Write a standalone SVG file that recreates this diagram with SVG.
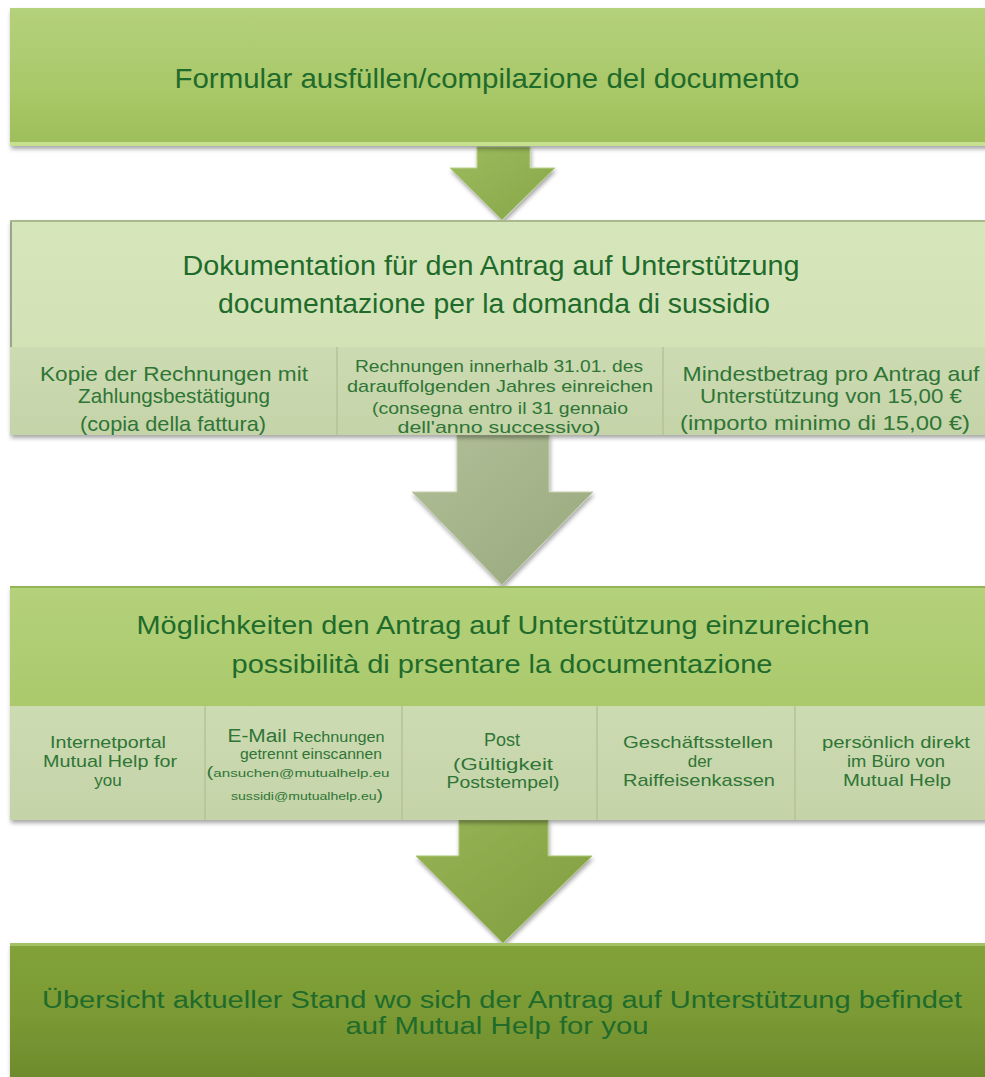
<svg xmlns="http://www.w3.org/2000/svg" width="985" height="1077" viewBox="0 0 985 1077">
<defs>
<linearGradient id="gBright" x1="0" y1="0" x2="0" y2="1">
<stop offset="0" stop-color="#b4d17b"/><stop offset="0.6" stop-color="#a9c868"/><stop offset="1" stop-color="#9dbe5a"/>
</linearGradient>
<linearGradient id="gPale" x1="0" y1="0" x2="0" y2="1">
<stop offset="0" stop-color="#d6e6bb"/><stop offset="1" stop-color="#d0e0b2"/>
</linearGradient>
<linearGradient id="gCell" x1="0" y1="0" x2="0" y2="1">
<stop offset="0" stop-color="#cddbb2"/><stop offset="1" stop-color="#c4d3a8"/>
</linearGradient>
<linearGradient id="gDark" x1="0" y1="0" x2="0" y2="1">
<stop offset="0" stop-color="#82a23a"/><stop offset="0.5" stop-color="#7b9a34"/><stop offset="1" stop-color="#6c8a2c"/>
</linearGradient>
<linearGradient id="gArrow1" x1="0" y1="0" x2="1" y2="1">
<stop offset="0" stop-color="#9dbb5e"/><stop offset="1" stop-color="#86a648"/>
</linearGradient>
<linearGradient id="gArrow2" x1="0" y1="0" x2="1" y2="1">
<stop offset="0" stop-color="#b1bf98"/><stop offset="1" stop-color="#98a87c"/>
</linearGradient>
<linearGradient id="gArrow3" x1="0" y1="0" x2="1" y2="1">
<stop offset="0" stop-color="#97b356"/><stop offset="1" stop-color="#7f9e3e"/>
</linearGradient>
<filter id="shadow" x="-5%" y="-5%" width="110%" height="120%">
<feDropShadow dx="1" dy="3" stdDeviation="2" flood-color="#000" flood-opacity="0.35"/>
</filter>
</defs>
<style>
text{font-family:"Liberation Sans",Arial,sans-serif;text-anchor:middle;fill:#1f6b2b}
.t1{font-size:28px}
.t2{font-size:27px}
.t3{font-size:25px}
.c2{font-size:21px;fill:#2f7536}
.c2s{font-size:17px;fill:#2f7536}
.c3{font-size:17px;fill:#2f7536}
.c3s{font-size:16px;fill:#2f7536}
.sep{stroke:#b4c397;stroke-width:1.5}
</style>

<g id="connectors">
<polygon points="477,147 530,147 530,168 555,168 502,220 450,168 477,168" fill="url(#gArrow1)" stroke="#b9d48a" stroke-width="1" filter="url(#shadow)"/>
<polygon points="457,435 549,435 549,492 593,492 502,585 412,492 457,492" fill="url(#gArrow2)" stroke="#c4cfae" stroke-width="1" filter="url(#shadow)"/>
<polygon points="459,820 548,820 548,856 592,856 503,943 416,856 459,856" fill="url(#gArrow3)" stroke="#aac771" stroke-width="1" filter="url(#shadow)"/>
</g>

<g id="node1">
<rect x="10" y="8" width="985" height="138" fill="url(#gBright)" filter="url(#shadow)"/>
<rect x="10" y="142" width="985" height="4" fill="#c6e08f"/>
<text class="t1" x="487" y="88" textLength="625" lengthAdjust="spacingAndGlyphs">Formular ausfüllen/compilazione del documento</text>
</g>

<g id="node2">
<rect x="10" y="220" width="985" height="215" fill="url(#gPale)" filter="url(#shadow)"/>
<rect x="10" y="220" width="985" height="2" fill="#a9b98c"/>
<rect x="10" y="222" width="2" height="125" fill="#9aa58a"/>
<rect x="10" y="347" width="985" height="88" fill="url(#gCell)"/>
<line class="sep" x1="337" y1="347" x2="337" y2="435"/>
<line class="sep" x1="663" y1="347" x2="663" y2="435"/>
<text class="t2" x="491" y="275" textLength="617" lengthAdjust="spacingAndGlyphs">Dokumentation für den Antrag auf Unterstützung</text>
<text class="t2" x="494" y="313" textLength="552" lengthAdjust="spacingAndGlyphs">documentazione per la domanda di sussidio</text>
</g>
<g id="node2a">
<text class="c2" x="174" y="381" textLength="268" lengthAdjust="spacingAndGlyphs">Kopie der Rechnungen mit</text>
<text class="c2" x="174" y="403" textLength="192" lengthAdjust="spacingAndGlyphs">Zahlungsbestätigung</text>
<text class="c2" x="173" y="431" textLength="186" lengthAdjust="spacingAndGlyphs">(copia della fattura)</text>
</g>
<g id="node2b">
<text class="c2s" x="499" y="372" textLength="288" lengthAdjust="spacingAndGlyphs">Rechnungen innerhalb 31.01. des</text>
<text class="c2s" x="500" y="392" textLength="306" lengthAdjust="spacingAndGlyphs">darauffolgenden Jahres einreichen</text>
<text class="c2s" x="500" y="414" textLength="256" lengthAdjust="spacingAndGlyphs">(consegna entro il 31 gennaio</text>
<text class="c2s" x="499" y="433" textLength="203" lengthAdjust="spacingAndGlyphs">dell'anno successivo)</text>
</g>
<g id="node2c">
<text class="c2" x="831" y="381" textLength="297" lengthAdjust="spacingAndGlyphs">Mindestbetrag pro Antrag auf</text>
<text class="c2" x="831" y="403" textLength="262" lengthAdjust="spacingAndGlyphs">Unterstützung von 15,00 €</text>
<text class="c2" x="825" y="430" textLength="290" lengthAdjust="spacingAndGlyphs">(importo minimo di 15,00 €)</text>
</g>

<g id="node3">
<rect x="10" y="586" width="985" height="234" fill="url(#gBright)" filter="url(#shadow)"/>
<rect x="10" y="586" width="985" height="2" fill="#95b455"/>
<rect x="10" y="706" width="985" height="114" fill="url(#gCell)"/>
<line class="sep" x1="205" y1="706" x2="205" y2="820"/>
<line class="sep" x1="402" y1="706" x2="402" y2="820"/>
<line class="sep" x1="597" y1="706" x2="597" y2="820"/>
<line class="sep" x1="795" y1="706" x2="795" y2="820"/>
<text class="t3" x="503" y="634" textLength="733" lengthAdjust="spacingAndGlyphs">Möglichkeiten den Antrag auf Unterstützung einzureichen</text>
<text class="t3" x="502" y="673" textLength="541" lengthAdjust="spacingAndGlyphs">possibilità di prsentare la documentazione</text>
</g>
<g id="node3a">
<text class="c3" x="108" y="748" textLength="116" lengthAdjust="spacingAndGlyphs">Internetportal</text>
<text class="c3" x="110" y="767" textLength="134" lengthAdjust="spacingAndGlyphs">Mutual Help for</text>
<text class="c3" x="108" y="786">you</text>
</g>
<g id="node3b">
<text x="306" y="742" textLength="157" lengthAdjust="spacingAndGlyphs" style="fill:#2f7536"><tspan font-size="18">E-Mail </tspan><tspan font-size="14">Rechnungen</tspan></text>
<text x="311" y="759" font-size="14" textLength="142" lengthAdjust="spacingAndGlyphs" style="fill:#2f7536">getrennt einscannen</text>
<text x="298" y="777" textLength="183" lengthAdjust="spacingAndGlyphs" style="fill:#2f7536"><tspan font-size="15">(</tspan><tspan font-size="11">ansuchen@mutualhelp.eu</tspan></text>
<text x="307" y="800" textLength="152" lengthAdjust="spacingAndGlyphs" style="fill:#2f7536"><tspan font-size="11">sussidi@mutualhelp.eu</tspan><tspan font-size="15">)</tspan></text>
</g>
<g id="node3c">
<text class="c3" x="502" y="746" style="font-size:18px">Post</text>
<text class="c3s" x="503" y="770" textLength="100" lengthAdjust="spacingAndGlyphs">(Gültigkeit</text>
<text class="c3s" x="503" y="788" textLength="113" lengthAdjust="spacingAndGlyphs">Poststempel)</text>
</g>
<g id="node3d">
<text class="c3" x="698" y="748" textLength="150" lengthAdjust="spacingAndGlyphs">Geschäftsstellen</text>
<text class="c3" x="700" y="767">der</text>
<text class="c3" x="699" y="786" textLength="152" lengthAdjust="spacingAndGlyphs">Raiffeisenkassen</text>
</g>
<g id="node3e">
<text class="c3" x="896" y="748" textLength="148" lengthAdjust="spacingAndGlyphs">persönlich direkt</text>
<text class="c3" x="896" y="767" textLength="98" lengthAdjust="spacingAndGlyphs">im Büro von</text>
<text class="c3" x="897" y="786" textLength="108" lengthAdjust="spacingAndGlyphs">Mutual Help</text>
</g>

<g id="node4">
<rect x="10" y="943" width="985" height="140" fill="url(#gDark)" filter="url(#shadow)"/>
<rect x="10" y="943" width="985" height="3" fill="#a3c266"/>
<text x="502" y="1008" font-size="23" textLength="920" lengthAdjust="spacingAndGlyphs">Übersicht aktueller Stand wo sich der Antrag auf Unterstützung befindet</text>
<text x="497" y="1034" font-size="23" textLength="303" lengthAdjust="spacingAndGlyphs">auf Mutual Help for you</text>
</g>
</svg>
